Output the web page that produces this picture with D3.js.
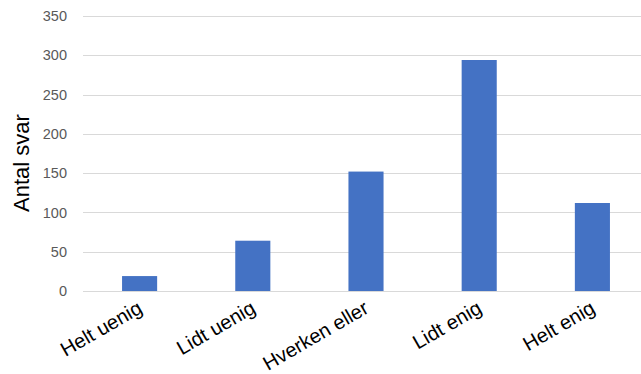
<!DOCTYPE html>
<html>
<head>
<meta charset="utf-8">
<script src="https://cdn.jsdelivr.net/npm/d3@7"></script>
<style>
  html, body { margin: 0; padding: 0; background: #fff; }
  svg { display: block; }
</style>
</head>
<body>
<svg id="chart" width="641" height="374"></svg>
<script>
// Survey answers per response option
const categories = ["Helt uenig", "Lidt uenig", "Hverken eller", "Lidt enig", "Helt enig"];
const counts = [19, 64, 152, 294, 112];
const yTicks = [0, 50, 100, 150, 200, 250, 300, 350];
const yTitle = "Antal svar";

const svg = d3.select("#chart");
const W = 641, H = 374;
const plot = { left: 83, right: 649, top: 16, bottom: 291 };
const font = "Liberation Sans, Arial, sans-serif";

const x = d3.scaleBand()
  .domain(categories)
  .range([plot.left, plot.right])
  .paddingInner(0.69)
  .paddingOuter(0.345);

const y = d3.scaleLinear()
  .domain([0, 350])
  .range([plot.bottom, plot.top]);

// horizontal gridlines
svg.append("g")
  .selectAll("line")
  .data(yTicks)
  .join("line")
  .attr("x1", plot.left)
  .attr("x2", W)
  .attr("y1", d => Math.round(y(d)) + 0.5)
  .attr("y2", d => Math.round(y(d)) + 0.5)
  .attr("stroke", "#d9d9d9")
  .attr("stroke-width", 1);

// y tick labels
const yAxis = d3.axisLeft(y).tickValues(yTicks).tickSize(0).tickPadding(0);
const yg = svg.append("g")
  .attr("transform", `translate(${plot.left - 16},0)`)
  .call(yAxis);
yg.select(".domain").remove();
yg.selectAll("text")
  .attr("font-family", font)
  .attr("font-size", 14.5)
  .attr("fill", "#595959");

// bars
svg.append("g")
  .selectAll("rect")
  .data(counts)
  .join("rect")
  .attr("x", (d, i) => x(categories[i]))
  .attr("width", x.bandwidth())
  .attr("y", d => y(d))
  .attr("height", d => y(0) - y(d))
  .attr("fill", "#4472c4");

// x category labels, slanted
const xAxis = d3.axisBottom(x).tickSize(0).tickPadding(0);
const xg = svg.append("g")
  .attr("transform", `translate(0,${plot.bottom})`)
  .call(xAxis);
xg.select(".domain").remove();
xg.selectAll("text")
  .attr("font-family", font)
  .attr("font-size", 20)
  .attr("fill", "#000")
  .attr("text-anchor", "end")
  .attr("y", 0)
  .attr("dy", null)
  .attr("transform", "translate(4,21) rotate(-30)");

// y axis title
svg.append("text")
  .attr("transform", `translate(29,163) rotate(-90)`)
  .attr("text-anchor", "middle")
  .attr("font-family", font)
  .attr("font-size", 22)
  .attr("fill", "#000")
  .text(yTitle);
</script>
</body>
</html>
